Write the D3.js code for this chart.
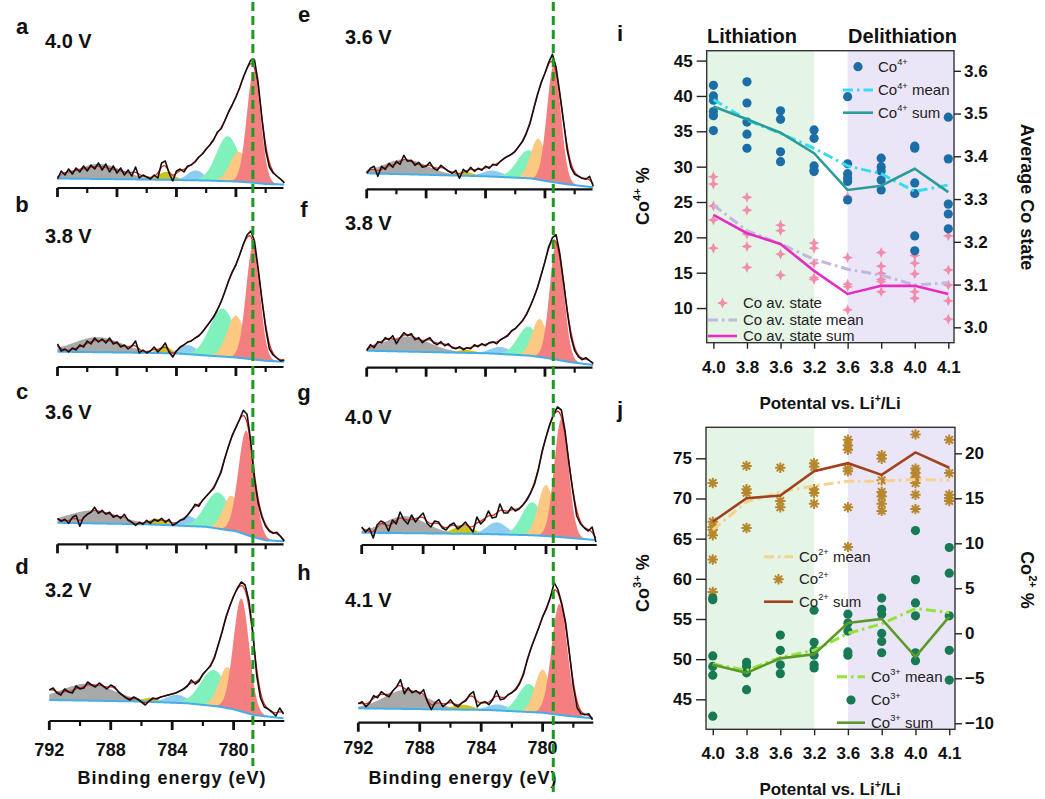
<!DOCTYPE html>
<html>
<head>
<meta charset="utf-8">
<script src="https://cdn.jsdelivr.net/npm/d3@7"></script>
<style>
  body { margin: 0; background: #fff; }
  text { font-family: "Liberation Sans", Arial, Helvetica, sans-serif; }
</style>
</head>
<body>
<svg id="fig" width="1045" height="799"></svg>
<script>
// ---------------- XPS Co 2p3/2 spectra (panels a-h) ----------------
// counts are sampled every 0.25 eV from 792 eV downwards (62 points)
var energyStart = 792, energyStep = 0.25;
var panelLetters = ["a", "b", "c", "d", "e", "f", "g", "h"];
var voltages = ["4.0 V", "3.8 V", "3.6 V", "3.2 V", "3.6 V", "3.8 V", "4.0 V", "4.1 V"];

var countsA = [8,16,12,18,13,19,15,21,16,22,18,24,17,23,15,21,14,19,12,17,11,20,9,12,10,8,12,9,24,26,14,6,16,18,15,21,22,25,30,33,38,42,47,55,58,66,75,82,90,99,110,119,127,127,104,68,37,20,14,11,8,4];
var countsB = [22,15,17,14,18,16,21,19,25,22,28,24,27,23,28,22,24,19,21,17,20,25,13,16,13,15,19,14,18,23,14,9,15,19,21,24,25,28,30,34,39,44,49,56,64,74,85,94,101,111,122,131,135,125,97,66,38,17,11,8,5,6];
var countsC = [25,22,24,20,26,28,17,26,29,31,36,30,33,29,31,26,28,25,29,23,21,18,21,19,23,20,24,22,25,21,24,18,20,23,24,28,33,39,37,43,47,51,55,63,71,85,97,108,116,124,133,129,102,64,40,26,17,12,10,11,7,2];
var countsD = [30,32,27,25,31,28,27,34,31,32,38,35,33,37,34,31,35,33,28,25,22,20,23,21,18,15,19,22,21,23,24,25,26,27,29,31,34,40,36,39,46,50,54,62,75,88,103,114,124,132,138,135,119,88,45,22,13,11,8,4,12,6];
var countsE = [15,20,22,12,22,19,25,21,27,24,33,27,28,23,26,21,22,26,20,18,23,20,17,15,18,10,19,16,21,17,20,18,22,20,24,23,27,30,32,34,37,42,47,55,65,80,94,106,115,126,134,121,95,67,38,21,14,12,10,9,12,2];
var countsF = [16,22,19,25,24,29,27,31,23,29,34,31,33,27,29,24,27,29,24,22,25,21,23,19,18,20,17,19,18,22,20,23,21,24,25,23,27,29,31,36,38,42,46,52,60,69,79,92,105,120,129,132,113,85,55,30,16,10,7,9,6,3];
var countsG = [17,12,16,6,19,23,21,13,24,20,32,24,20,29,22,27,31,21,17,23,22,16,14,19,21,15,18,22,17,12,27,20,24,33,26,27,40,31,31,37,33,35,39,44,51,60,74,93,107,120,130,137,134,112,80,52,28,20,16,13,17,2];
var countsH = [18,20,15,19,26,24,30,27,25,31,35,42,28,34,29,31,28,32,20,12,19,22,15,18,22,17,15,19,21,27,30,15,19,20,17,22,31,22,23,27,29,32,38,47,62,74,84,94,105,113,124,139,132,118,99,68,35,14,8,7,8,2];

// Shirley-type background, [energy, counts]
var bgA = [[792,8.5],[786,7.5],[782,6.5],[780,5.5],[779,4.5],[778,3],[776.75,2.5]];
var bgB = [[792,14.3],[786,13.2],[784,12.6],[782,10.5],[780,8.5],[779,6.8],[778,5.2],[776.75,4.3]];
var bgC = [[792,20.5],[786,19],[782,16.5],[780,12],[779,7],[778,3],[776.75,2]];
var bgD = [[792,20],[786,18.5],[783,16.7],[781,13.5],[780,10.7],[778.7,5],[776.75,1.7]];
var bgE = [[792,15],[784,12],[781,10],[779.7,6.7],[778.5,4],[776.75,1]];
var bgF = [[792,16],[783.7,13.3],[781,11],[779.7,8.3],[778.5,5],[776.75,1.7]];
var bgG = [[792,11.3],[784,10],[781,8.8],[780,8],[778,5.5],[776.75,4]];
var bgH = [[792,13.4],[783.5,11.7],[780,9],[778.5,6],[776.75,3.4]];

// fitted components [centre eV, height, FWHM eV]: grey, yellow, blue, green, orange, red
var peaksA = [[789.2,15,3.6],[784.7,8,1.2],[782.7,10,1.3],[780.55,45,1.8],[779.8,30,1.4],[778.8,111,1.1]];
var peaksB = [[789.3,15,3.8],[784.8,7,1.0],[783.2,9,1.4],[780.9,48,2.0],[780.0,42,1.4],[778.85,113,1.1]];
var peaksC = [[789.6,13,4.0],[785.3,6,1.3],[783.2,10,1.4],[781.2,36,2.0],[780.3,35,1.3],[779.3,104,1.25]];
var peaksD = [[789.5,17,4.0],[785.4,4,1.2],[783.7,8,1.6],[781.3,36,2.0],[780.4,41,1.3],[779.5,113,1.2]];
var peaksE = [[789.4,15,3.4],[785.4,4,1.3],[783.5,6,1.6],[781.1,28,1.8],[780.45,41,1.2],[779.4,117,1.1]];
var peaksF = [[789.3,15,3.6],[785.3,3,1.3],[783.0,7,1.6],[781.1,29,1.7],[780.35,38,1.2],[779.2,119,1.1]];
var peaksG = [[789.2,17,3.2],[785.4,8,1.5],[783.2,12,1.5],[780.9,33,1.6],[780.0,51,1.2],[779.0,118,1.1]];
var peaksH = [[788.9,19,3.3],[785.2,5,1.5],[782.9,6,1.6],[780.9,28,1.6],[780.0,43,1.2],[778.9,111,1.2]];
var peakColors = ["#a9a9a9", "#c9c31c", "#8ecdf2", "#80f0bc", "#fbc982", "#f47f80"];

var energyTicks = [792, 790, 788, 786, 784, 782, 780, 778];
var energyLabels = [792, 788, 784, 780];
var refLines = [778.86, 779.44];   // green dashed guides, left / right column

// ---------------- Panel i ----------------
var potentials = ["4.0", "3.8", "3.6", "3.2", "3.6", "3.8", "4.0", "4.1"];
var phases = ["Lithiation", "Delithiation"];
var co4Points = [[41.5,40.0,39.4,37.8,37.2,35.1],[42.0,39.0,36.3,34.6,32.6],[37.9,36.7,32.1,30.7],[35.2,34.0,30.1,29.5,29.3],
                 [39.9,30.4,29.0,28.4,27.9,25.3],[31.2,30.0,29.4,28.1,26.7],[32.9,32.6,27.7,26.2,20.2,18.1],[37.0,31.1,24.7,23.3,21.2]];
var co4Mean = [39.5, 36.6, 34.7, 32.6, 30.1, 29.0, 26.5, 27.4];
var co4Sum = [38.5, 36.7, 34.8, 31.9, 26.7, 27.3, 29.7, 26.4];
var coAvPoints = [[3.352,3.335,3.284,3.251,3.185],[3.304,3.274,3.218,3.189,3.140],[3.239,3.226,3.171,3.122],[3.197,3.185,3.150,3.116,3.112],
                  [3.305,3.163,3.101,3.095,3.041],[3.175,3.143,3.126,3.112,3.107,3.083],[3.168,3.150,3.125,3.083,3.068],[3.214,3.134,3.099,3.062,3.019]];
var coAvMean = [3.286, 3.226, 3.195, 3.159, 3.136, 3.122, 3.099, 3.104];
var coAvSum = [3.263, 3.220, 3.195, 3.132, 3.078, 3.097, 3.097, 3.078];
var co4Ticks = [10, 15, 20, 25, 30, 35, 40, 45];
var coAvTicks = [3.0, 3.1, 3.2, 3.3, 3.4, 3.5, 3.6];

// ---------------- Panel j ----------------
var co3Points = [[57.6,57.4,50.4,49.1,48.0,42.9],[49.6,49.1,48.3,46.2],[53.0,51.1,49.3,48.2],[56.1,52.1,51.1,50.5,49.3,48.9],
                 [55.6,54.5,53.5,50.9,50.5],[57.6,56.2,55.6,53.2,52.2,50.8],[66.0,59.9,57.0,55.4,50.8,49.8],[63.9,60.7,55.4,51.1,47.4]];
var co3Mean = [49.4, 48.6, 50.2, 51.1, 53.2, 54.4, 56.3, 55.8];
var co3Sum = [49.3, 48.3, 50.1, 50.6, 54.5, 55.0, 50.3, 55.3];
var co2Points = [[16.7,12.4,11.8,11.5,10.9,8.2,4.6],[18.6,16.0,15.6,11.7],[18.4,14.7,14.0],[18.9,18.5,16.0,15.6,14.4],
                 [21.5,20.9,20.4,18.3,18.0,14.0,9.6],[19.8,19.4,17.0,15.7,15.2,14.4,13.6],[22.1,18.3,17.8,17.3,16.7,15.4,13.8],[21.5,17.8,15.4,15.0,14.7]];
var co2Mean = [11.5, 14.6, 15.7, 16.4, 16.9, 16.9, 17.1, 17.0];
var co2Sum = [12.4, 15.0, 15.3, 18.0, 18.9, 17.6, 20.1, 18.4];
var co3Ticks = [45, 50, 55, 60, 65, 70, 75];
var co2Ticks = [-10, -5, 0, 5, 10, 15, 20];

// =====================================================================
var svg = d3.select("#fig");

function supText(sel, parts, fs) {
  var prevSup = false;
  parts.forEach(function(p) {
    var sup = p[1] === 1;
    var ts = sel.append("tspan").text(p[0]);
    if (sup) ts.attr("font-size", fs * 0.62).attr("dy", prevSup ? 0 : -fs * 0.42);
    else ts.attr("font-size", fs).attr("dy", prevSup ? fs * 0.42 : 0);
    prevSup = sup;
  });
}

// ---------- spectra ----------
var allCounts = [countsA, countsB, countsC, countsD, countsE, countsF, countsG, countsH];
var allBg = [bgA, bgB, bgC, bgD, bgE, bgF, bgG, bgH];
var allPeaks = [peaksA, peaksB, peaksC, peaksD, peaksE, peaksF, peaksG, peaksH];

var layout = [
  {x0: 57.5, x1: 283.5, eEnd: 776.8, axisY: 187,   lx: 22,  ly: 34,  vx: 45,  vy: 48},
  {x0: 57.5, x1: 283.5, eEnd: 776.8, axisY: 366,   lx: 22,  ly: 212, vx: 45,  vy: 243},
  {x0: 57.5, x1: 283.5, eEnd: 776.8, axisY: 543.3, lx: 22,  ly: 399, vx: 45,  vy: 419},
  {x0: 49.3, x1: 284.3, eEnd: 776.7, axisY: 720,   lx: 22,  ly: 574, vx: 45,  vy: 597, labels: true, lblY: 756, titleX: 172},
  {x0: 366.7, x1: 592.5, eEnd: 776.8, axisY: 188.3, lx: 304, ly: 22,  vx: 345, vy: 44},
  {x0: 366.7, x1: 592.5, eEnd: 776.8, axisY: 366.7, lx: 304, ly: 217, vx: 345, vy: 230},
  {x0: 361.7, x1: 596.7, eEnd: 776.7, axisY: 544,   lx: 304, ly: 400, vx: 345, vy: 424},
  {x0: 358.3, x1: 593.3, eEnd: 776.7, axisY: 721.7, lx: 304, ly: 580, vx: 345, vy: 607, labels: true, lblY: 754, titleX: 463}
];

var fineGrid = d3.range(0, 306).map(function(k) { return energyStart - 0.05 * k; });

allCounts.forEach(function(counts, i) {
  var L = layout[i];
  var x = d3.scaleLinear().domain([energyStart, L.eEnd]).range([L.x0, L.x1]);
  var y = d3.scaleLinear().domain([0, 140]).range([L.axisY, L.axisY - 140]);
  var bg = d3.scaleLinear().domain(allBg[i].map(function(d) { return d[0]; }))
                           .range(allBg[i].map(function(d) { return d[1]; })).clamp(true);
  var g = svg.append("g");
  var pts = counts.map(function(c, k) { return [energyStart - energyStep * k, c]; });

  // components
  allPeaks[i].forEach(function(p, j) {
    var area = d3.area()
      .x(function(e) { return x(e); })
      .y0(function(e) { return y(bg(e)); })
      .y1(function(e) { return y(bg(e) + p[1] * Math.exp(-4 * Math.LN2 * Math.pow((e - p[0]) / p[2], 2))); });
    g.append("path").datum(fineGrid).attr("d", area).attr("fill", peakColors[j]);
  });

  // background
  g.append("path").datum(fineGrid)
    .attr("d", d3.line().x(function(e) { return x(e); }).y(function(e) { return y(bg(e)); }))
    .attr("fill", "none").attr("stroke", "#45ade8").attr("stroke-width", 2);

  // fit envelope (smoothed)
  var env = pts.map(function(d, k) {
    var a = pts[Math.max(0, k - 1)][1], b = pts[Math.min(pts.length - 1, k + 1)][1];
    return [d[0], (a + 2 * d[1] + b) / 4];
  });
  g.append("path").datum(env)
    .attr("d", d3.line().curve(d3.curveBasis).x(function(d) { return x(d[0]); }).y(function(d) { return y(d[1]); }))
    .attr("fill", "none").attr("stroke", "#e8261f").attr("stroke-width", 1.3);

  // measured data
  g.append("path").datum(pts)
    .attr("d", d3.line().x(function(d) { return x(d[0]); }).y(function(d) { return y(d[1]); }))
    .attr("fill", "none").attr("stroke", "#111").attr("stroke-width", 1.6).attr("stroke-linejoin", "round");

  // axis
  g.append("line").attr("x1", x(energyStart)).attr("x2", x(L.eEnd))
    .attr("y1", L.axisY + 1).attr("y2", L.axisY + 1).attr("stroke", "#111").attr("stroke-width", 2.2);
  energyTicks.forEach(function(t) {
    var major = energyLabels.indexOf(t) >= 0;
    g.append("line").attr("x1", x(t)).attr("x2", x(t))
      .attr("y1", L.axisY + 1).attr("y2", L.axisY + (major ? 10 : 6))
      .attr("stroke", "#111").attr("stroke-width", major ? 2.8 : 2.2);
  });
  if (L.labels) {
    energyLabels.forEach(function(t) {
      g.append("text").attr("x", x(t)).attr("y", L.lblY).attr("text-anchor", "middle")
        .attr("font-size", 18).attr("font-weight", "bold").attr("fill", "#111").text(t);
    });
    g.append("text").attr("x", L.titleX).attr("y", 784).attr("text-anchor", "middle")
      .attr("font-size", 18).attr("font-weight", "bold").attr("letter-spacing", 1).attr("fill", "#111")
      .text("Binding energy (eV)");
  }
  g.append("text").attr("x", L.lx).attr("y", L.ly).attr("text-anchor", "middle")
    .attr("font-size", 22).attr("font-weight", "bold").attr("fill", "#111").text(panelLetters[i]);
  g.append("text").attr("x", L.vx).attr("y", L.vy)
    .attr("font-size", 20).attr("font-weight", "bold").attr("fill", "#111").text(voltages[i]);
});

// green dashed guide lines
[[0, 2, 766], [4, 2, 792]].forEach(function(r, k) {
  var L = layout[r[0]];
  var x = d3.scaleLinear().domain([energyStart, L.eEnd]).range([L.x0, L.x1]);
  svg.append("line").attr("x1", x(refLines[k])).attr("x2", x(refLines[k]))
    .attr("y1", r[1]).attr("y2", r[2])
    .attr("stroke", "#1f9a1f").attr("stroke-width", 3).attr("stroke-dasharray", "9,5");
});

// ---------- panels i and j ----------
function starPath(r) {
  var s = r * 0.3;
  return "M0," + (-r) + "L" + s + "," + (-s) + "L" + r + ",0L" + s + "," + s + "L0," + r +
         "L" + (-s) + "," + s + "L" + (-r) + ",0L" + (-s) + "," + (-s) + "Z";
}
function astPath(r) {
  var d = r * Math.SQRT1_2;
  return "M" + (-r) + ",0L" + r + ",0M0," + (-r) + "L0," + r +
         "M" + (-d) + "," + (-d) + "L" + d + "," + d + "M" + (-d) + "," + d + "L" + d + "," + (-d);
}
function drawMarker(g, type, color, cx, cy) {
  if (type === "dot") g.append("circle").attr("cx", cx).attr("cy", cy).attr("r", 4.6).attr("fill", color);
  else if (type === "star") g.append("path").attr("d", starPath(5.5)).attr("transform", "translate(" + cx + "," + cy + ")").attr("fill", color);
  else if (type === "ast") g.append("path").attr("d", astPath(5.2)).attr("transform", "translate(" + cx + "," + cy + ")")
        .attr("fill", "none").attr("stroke", color).attr("stroke-width", 2);
}

var COL = {
  co4: "#1c6ea6", co4Mean: "#38dcf0", co4Sum: "#2a9d98",
  av: "#f28cad", avMean: "#c3b6e2", avSum: "#e82cc2",
  co3: "#187a55", co3Mean: "#95e23a", co3Sum: "#5b9a2a",
  co2: "#b8872d", co2Mean: "#f6d28c", co2Sum: "#a2421b"
};
var DASH = "10,4,2.5,4";

function makePanel(cfg) {
  var g = svg.append("g");
  var x = d3.scaleLinear().domain([-0.2, 7.17]).range([cfg.left, cfg.right]);
  var yL = d3.scaleLinear().domain(cfg.leftDomain).range([cfg.bottom, cfg.top]);
  var yR = d3.scaleLinear().domain(cfg.rightDomain).range([cfg.bottom, cfg.top]);

  // phase shading
  g.append("rect").attr("x", cfg.left).attr("y", cfg.top).attr("width", x(3) - cfg.left)
    .attr("height", cfg.bottom - cfg.top).attr("fill", "#e4f5e5");
  g.append("rect").attr("x", x(4)).attr("y", cfg.top).attr("width", cfg.right - x(4))
    .attr("height", cfg.bottom - cfg.top).attr("fill", "#ebe6f7");

  // scatter
  cfg.scatter.forEach(function(s) {
    var ys = s.axis === "L" ? yL : yR;
    s.data.forEach(function(vals, k) {
      vals.forEach(function(v) { drawMarker(g, s.type, s.color, x(k), ys(v)); });
    });
  });
  // lines
  cfg.lines.forEach(function(s) {
    var ys = s.axis === "L" ? yL : yR;
    g.append("path").datum(s.data)
      .attr("d", d3.line().x(function(d, k) { return x(k); }).y(function(d) { return ys(d); }))
      .attr("fill", "none").attr("stroke", s.color).attr("stroke-width", s.dash ? 3 : 2.6)
      .attr("stroke-dasharray", s.dash ? DASH : null);
  });

  // frame
  g.append("rect").attr("x", cfg.left).attr("y", cfg.top).attr("width", cfg.right - cfg.left)
    .attr("height", cfg.bottom - cfg.top).attr("fill", "none").attr("stroke", "#333").attr("stroke-width", 1.4);

  function styleAxis(a) {
    a.select(".domain").remove();
    a.selectAll("line").attr("stroke", "#222").attr("stroke-width", 1.4);
    a.selectAll("text").attr("font-size", 17).attr("font-weight", "bold").attr("fill", "#111")
      .attr("font-family", '"Liberation Sans", Arial, sans-serif');
  }
  styleAxis(g.append("g").attr("transform", "translate(" + cfg.left + ",0)")
    .call(d3.axisLeft(yL).tickValues(cfg.leftTicks).tickSize(10).tickPadding(4)));
  styleAxis(g.append("g").attr("transform", "translate(" + cfg.right + ",0)")
    .call(d3.axisRight(yR).tickValues(cfg.rightTicks).tickSize(7).tickPadding(3).tickFormat(cfg.rightFormat)));
  styleAxis(g.append("g").attr("transform", "translate(0," + cfg.bottom + ")")
    .call(d3.axisBottom(x).tickValues(d3.range(potentials.length)).tickSize(6).tickPadding(12)
      .tickFormat(function(k) { return potentials[k]; })));

  // titles
  var xt = g.append("text").attr("x", 830).attr("y", cfg.bottom + 66).attr("text-anchor", "middle")
    .attr("font-weight", "bold").attr("fill", "#111");
  supText(xt, [["Potental vs. Li"], ["+", 1], ["/Li"]], 17);
  var lt = g.append("text").attr("transform", "translate(649," + cfg.leftTitleY + ") rotate(-90)")
    .attr("text-anchor", "middle").attr("font-weight", "bold").attr("fill", "#111");
  supText(lt, cfg.leftTitle, 18);
  var rt = g.append("text").attr("transform", "translate(1021," + cfg.rightTitleY + ") rotate(90)")
    .attr("text-anchor", "middle").attr("font-weight", "bold").attr("fill", "#111");
  supText(rt, cfg.rightTitle, 18);
  g.append("text").attr("x", 620).attr("y", cfg.top - 10).attr("text-anchor", "middle")
    .attr("font-size", 22).attr("font-weight", "bold").attr("fill", "#111").text(cfg.letter);

  // legends
  cfg.legends.forEach(function(lg) {
    lg.rows.forEach(function(r, k) {
      var cy = lg.y[k];
      if (r.type === "line") {
        g.append("line").attr("x1", lg.x0).attr("x2", lg.x1).attr("y1", cy).attr("y2", cy)
          .attr("stroke", r.color).attr("stroke-width", r.dash ? 3 : 2.6)
          .attr("stroke-dasharray", r.dash ? DASH : null);
      } else {
        drawMarker(g, r.type, r.color, (lg.x0 + lg.x1) / 2, cy);
      }
      var t = g.append("text").attr("x", lg.tx).attr("y", cy + 5).attr("fill", "#222");
      supText(t, r.label, 15);
    });
  });
  return {x: x, g: g};
}

var panelI = makePanel({
  letter: "i", left: 706.7, right: 954, top: 50.7, bottom: 342.7,
  leftDomain: [5.1, 46.4], rightDomain: [2.964, 3.647],
  leftTicks: co4Ticks, rightTicks: coAvTicks, rightFormat: d3.format(".1f"),
  leftTitle: [["Co"], ["4+", 1], [" %"]], leftTitleY: 196,
  rightTitle: [["Average Co state"]], rightTitleY: 197,
  scatter: [
    {type: "star", color: COL.av, axis: "R", data: coAvPoints},
    {type: "dot", color: COL.co4, axis: "L", data: co4Points}
  ],
  lines: [
    {color: COL.avMean, dash: true, axis: "R", data: coAvMean},
    {color: COL.avSum, axis: "R", data: coAvSum},
    {color: COL.co4Mean, dash: true, axis: "L", data: co4Mean},
    {color: COL.co4Sum, axis: "L", data: co4Sum}
  ],
  legends: [
    {x0: 843, x1: 873, tx: 878, y: [66.7, 90, 112.7], rows: [
      {type: "dot", color: COL.co4, label: [["Co"], ["4+", 1]]},
      {type: "line", color: COL.co4Mean, dash: true, label: [["Co"], ["4+", 1], [" mean"]]},
      {type: "line", color: COL.co4Sum, label: [["Co"], ["4+", 1], [" sum"]]}
    ]},
    {x0: 708, x1: 737, tx: 743, y: [303, 320, 336], rows: [
      {type: "star", color: COL.av, label: [["Co av. state"]]},
      {type: "line", color: COL.avMean, dash: true, label: [["Co av. state mean"]]},
      {type: "line", color: COL.avSum, label: [["Co av. state sum"]]}
    ]}
  ]
});

// phase titles above panel i
svg.append("text").attr("x", 707).attr("y", 43).attr("font-size", 20).attr("font-weight", "bold")
  .attr("fill", "#111").text(phases[0]);
svg.append("text").attr("x", 957).attr("y", 43).attr("text-anchor", "end").attr("font-size", 20)
  .attr("font-weight", "bold").attr("fill", "#111").text(phases[1]);

var panelJ = makePanel({
  letter: "j", left: 706, right: 955, top: 427.3, bottom: 729.3,
  leftDomain: [41.27, 78.86], rightDomain: [-10.67, 22.89],
  leftTicks: co3Ticks, rightTicks: co2Ticks, rightFormat: d3.format("d"),
  leftTitle: [["Co"], ["3+", 1], [" %"]], leftTitleY: 583,
  rightTitle: [["Co"], ["2+", 1], [" %"]], rightTitleY: 580,
  scatter: [
    {type: "ast", color: COL.co2, axis: "R", data: co2Points},
    {type: "dot", color: COL.co3, axis: "L", data: co3Points}
  ],
  lines: [
    {color: COL.co2Mean, dash: true, axis: "R", data: co2Mean},
    {color: COL.co2Sum, axis: "R", data: co2Sum},
    {color: COL.co3Mean, dash: true, axis: "L", data: co3Mean},
    {color: COL.co3Sum, axis: "L", data: co3Sum}
  ],
  legends: [
    {x0: 764, x1: 793, tx: 799, y: [556.7, 579.3, 601.7], rows: [
      {type: "line", color: COL.co2Mean, dash: true, label: [["Co"], ["2+", 1], [" mean"]]},
      {type: "ast", color: COL.co2, label: [["Co"], ["2+", 1]]},
      {type: "line", color: COL.co2Sum, label: [["Co"], ["2+", 1], [" sum"]]}
    ]},
    {x0: 837, x1: 865, tx: 871, y: [676.7, 700, 722.7], rows: [
      {type: "line", color: COL.co3Mean, dash: true, label: [["Co"], ["3+", 1], [" mean"]]},
      {type: "dot", color: COL.co3, label: [["Co"], ["3+", 1]]},
      {type: "line", color: COL.co3Sum, label: [["Co"], ["3+", 1], [" sum"]]}
    ]}
  ]
});
</script>
</body>
</html>
